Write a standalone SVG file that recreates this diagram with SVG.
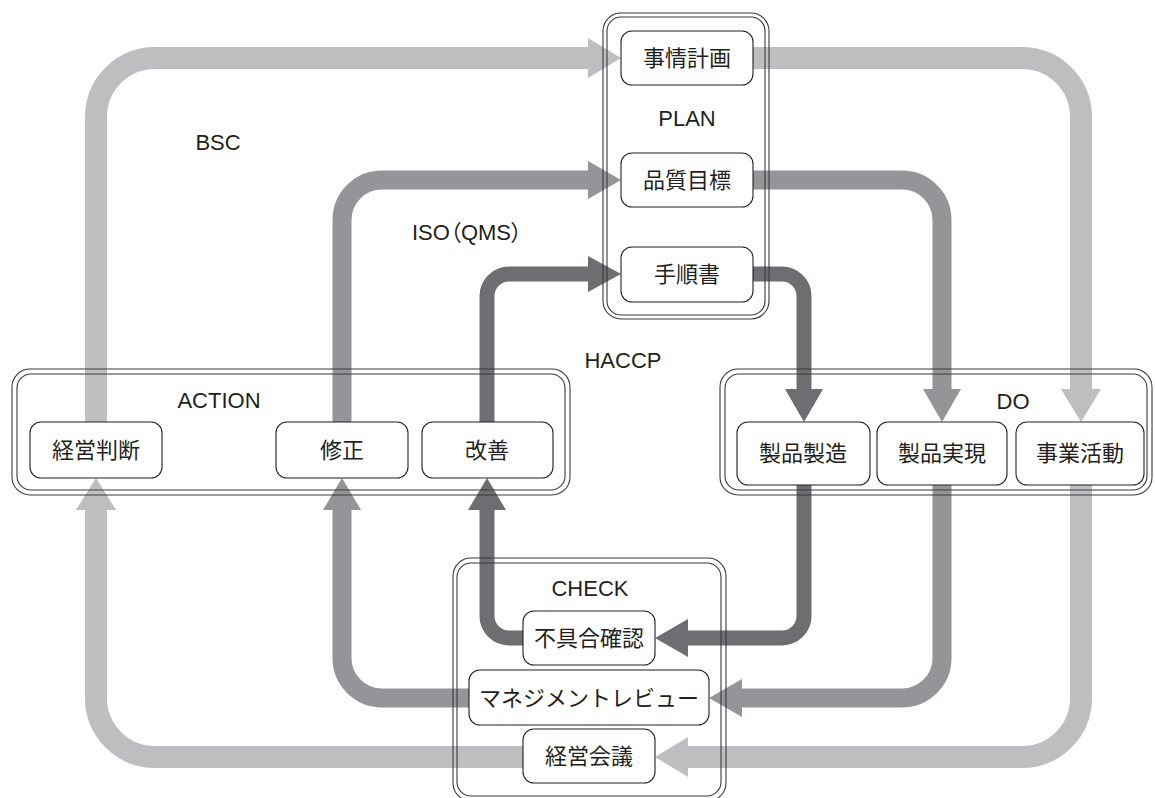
<svg xmlns="http://www.w3.org/2000/svg" width="1155" height="798" viewBox="0 0 1155 798">
<style>
.bg{fill:#ffffff}
.grp{fill:none;stroke:#3a3a3a;stroke-width:1.1}
.node rect{fill:#ffffff;stroke:#231f20;stroke-width:1.1}
.jp{font-family:"Noto Sans CJK JP","Noto Sans",sans-serif;font-size:22px;fill:#231f20;text-anchor:middle}
.lbl{font-family:"Liberation Sans",Arial,"Noto Sans CJK JP",sans-serif;font-size:22px;fill:#231f20;text-anchor:middle}
.palt{font-feature-settings:"palt"}
.l{stroke:#bcbec0;stroke-width:22;fill:none}
.m{stroke:#939598;stroke-width:19;fill:none}
.d{stroke:#6d6e71;stroke-width:15;fill:none}
.lf{fill:#bcbec0}
.mf{fill:#939598}
.df{fill:#6d6e71}
</style>
<rect class="bg" x="0" y="0" width="1155" height="798"/>

<g id="connectors">
  <!-- light (BSC) -->
  <path class="l" d="M96,422 V117 A59,59 0 0 1 155,58 H589"/>
  <polygon class="lf" points="588,38 621,58 588,78"/>
  <path class="l" d="M753,58 H1022 A59,59 0 0 1 1081,117 V390"/>
  <polygon class="lf" points="1061,389 1101,389 1081,422"/>
  <path class="l" d="M1081,485 V698 A59,59 0 0 1 1022,757 H687"/>
  <polygon class="lf" points="688,737 688,777 655,757"/>
  <path class="l" d="M523,757 H155 A59,59 0 0 1 96,698 V509"/>
  <polygon class="lf" points="76,510 116,510 96,478"/>
  <!-- medium (ISO) -->
  <path class="m" d="M342,422 V220 A40,40 0 0 1 382,180 H589"/>
  <polygon class="mf" points="588,161 621,180 588,199"/>
  <path class="m" d="M753,180 H902 A40,40 0 0 1 942,220 V390"/>
  <polygon class="mf" points="923,389 961,389 942,422"/>
  <path class="m" d="M942,485 V658 A40,40 0 0 1 902,698 H741"/>
  <polygon class="mf" points="742,679 742,717 709,698"/>
  <path class="m" d="M469,698 H382 A40,40 0 0 1 342,658 V509"/>
  <polygon class="mf" points="323,510 361,510 342,478"/>
  <!-- dark (HACCP) -->
  <path class="d" d="M487,422 V296 A22,22 0 0 1 509,274 H589"/>
  <polygon class="df" points="588,256 621,274 588,292"/>
  <path class="d" d="M753,274 H782 A22,22 0 0 1 804,296 V390"/>
  <polygon class="df" points="785,389 823,389 804,422"/>
  <path class="d" d="M804,485 V616 A22,22 0 0 1 782,638 H687"/>
  <polygon class="df" points="688,619 688,657 655,638"/>
  <path class="d" d="M523,638 H509 A22,22 0 0 1 487,616 V509"/>
  <polygon class="df" points="468,510 506,510 487,478"/>
</g>

<g id="plan">
  <rect class="grp" x="603" y="13" width="166" height="306" rx="18"/>
  <rect class="grp" x="607" y="17" width="158" height="298" rx="14"/>
  <text class="lbl" x="687" y="126">PLAN</text>
</g>
<g id="action">
  <rect class="grp" x="12" y="369" width="558" height="126" rx="18"/>
  <rect class="grp" x="17" y="374" width="548" height="116" rx="14"/>
  <text class="lbl" x="219" y="408">ACTION</text>
</g>
<g id="do">
  <rect class="grp" x="720" y="369" width="432" height="126" rx="18"/>
  <rect class="grp" x="725" y="374" width="422" height="116" rx="14"/>
  <text class="lbl" x="1013" y="409">DO</text>
</g>
<g id="check">
  <rect class="grp" x="453" y="558" width="273" height="243" rx="18"/>
  <rect class="grp" x="457" y="563" width="264" height="233" rx="14"/>
  <text class="lbl" x="590" y="596">CHECK</text>
</g>

<g id="labels">
  <text class="lbl" x="218" y="150">BSC</text>
  <text class="lbl palt" x="467" y="240">ISO（QMS）</text>
  <text class="lbl" x="623" y="368">HACCP</text>
</g>

<g id="n-jijo" class="node"><rect x="621" y="31" width="132" height="54" rx="11"/><text class="jp" x="687" y="66">事情計画</text></g>
<g id="n-hinshitsu" class="node"><rect x="621" y="153" width="132" height="54" rx="11"/><text class="jp" x="687" y="188">品質目標</text></g>
<g id="n-tejun" class="node"><rect x="621" y="247" width="132" height="55" rx="11"/><text class="jp" x="687" y="282">手順書</text></g>

<g id="n-keiei" class="node"><rect x="30" y="422" width="132" height="56" rx="11"/><text class="jp" x="96" y="458">経営判断</text></g>
<g id="n-shusei" class="node"><rect x="276" y="422" width="132" height="56" rx="11"/><text class="jp" x="342" y="458">修正</text></g>
<g id="n-kaizen" class="node"><rect x="422" y="422" width="131" height="56" rx="11"/><text class="jp" x="487" y="458">改善</text></g>

<g id="n-seizo" class="node"><rect x="737" y="422" width="133" height="63" rx="11"/><text class="jp" x="803" y="461">製品製造</text></g>
<g id="n-jitsugen" class="node"><rect x="877" y="422" width="130" height="63" rx="11"/><text class="jp" x="942" y="461">製品実現</text></g>
<g id="n-jigyo" class="node"><rect x="1016" y="422" width="128" height="63" rx="11"/><text class="jp" x="1080" y="461">事業活動</text></g>

<g id="n-fuguai" class="node"><rect x="523" y="611" width="132" height="54" rx="11"/><text class="jp" x="589" y="646">不具合確認</text></g>
<g id="n-review" class="node"><rect x="469" y="670" width="240" height="55" rx="11"/><text class="jp" x="589" y="706">マネジメントレビュー</text></g>
<g id="n-kaigi" class="node"><rect x="523" y="729" width="132" height="54" rx="11"/><text class="jp" x="589" y="764">経営会議</text></g>
</svg>
